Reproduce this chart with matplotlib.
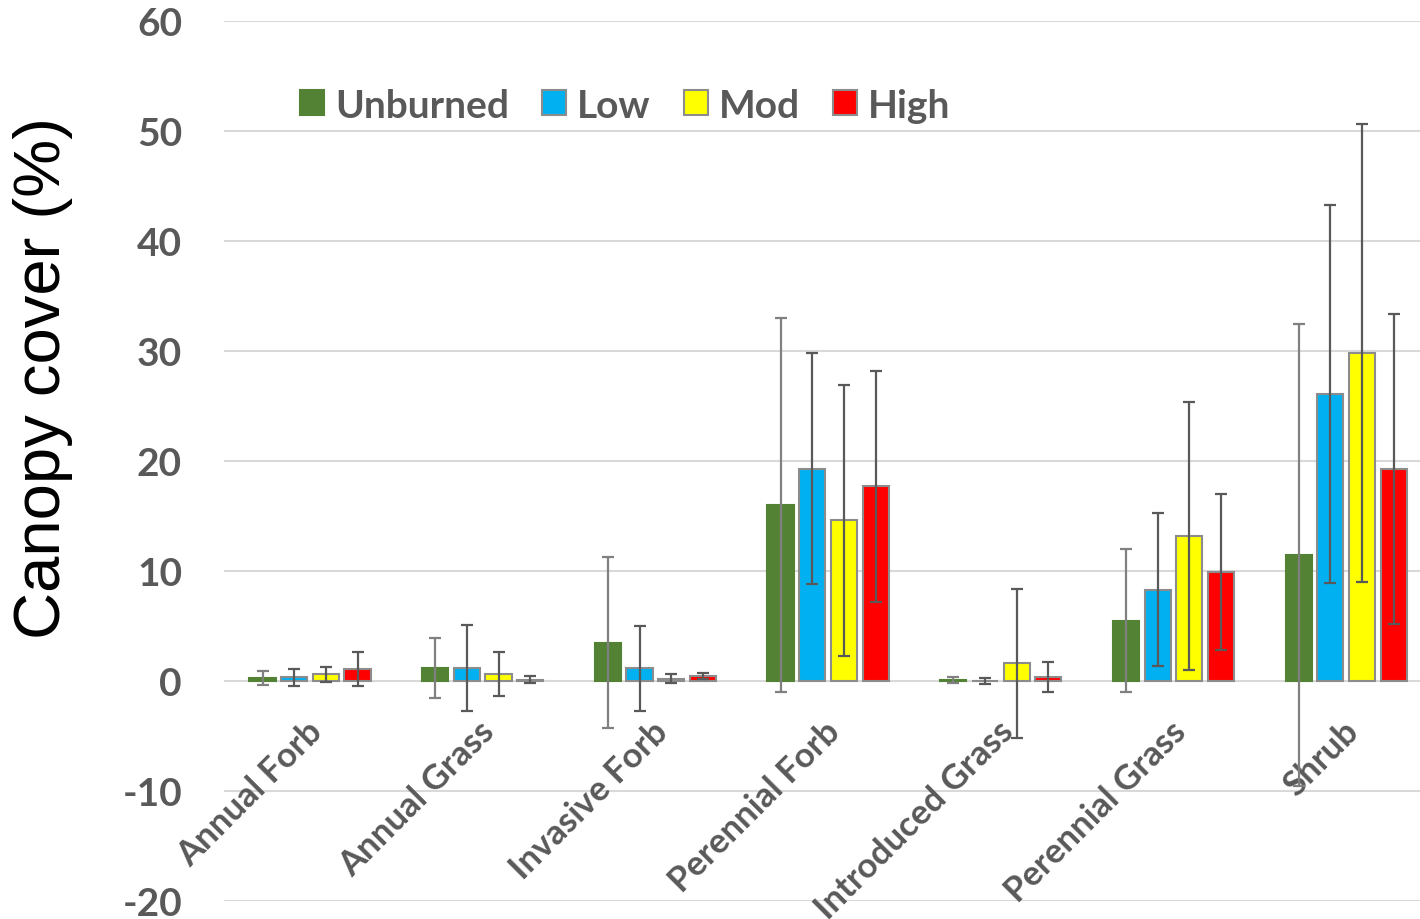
import matplotlib
matplotlib.use("Agg")
import matplotlib.pyplot as plt
import numpy as np

plt.rcParams["axes.unicode_minus"] = False

categories = ["Annual Forb", "Annual Grass", "Invasive Forb", "Perennial Forb",
              "Introduced Grass", "Perennial Grass", "Shrub"]
series = ["Unburned", "Low", "Mod", "High"]
unburned = [0.29, 1.17, 3.5, 16.0, 0.05, 5.5, 11.5]
unburned_err = [0.65, 2.75, 7.8, 17.0, 0.27, 6.5, 21.0]
low = [0.32, 1.18, 1.15, 19.3, 0.03, 8.3, 26.1]
low_err = [0.77, 3.9, 3.85, 10.5, 0.28, 6.95, 17.2]
mod = [0.62, 0.65, 0.2, 14.6, 1.6, 13.2, 29.8]
mod_err = [0.68, 1.98, 0.4, 12.3, 6.8, 12.2, 20.8]
high = [1.1, 0.12, 0.48, 17.7, 0.37, 9.9, 19.3]
high_err = [1.55, 0.3, 0.28, 10.5, 1.34, 7.1, 14.1]
yticks = [-20, -10, 0, 10, 20, 30, 40, 50, 60]

values = [unburned, low, mod, high]
errs = [unburned_err, low_err, mod_err, high_err]
colors = ["#548235", "#00B0F0", "#FFFF00", "#FF0000"]
edges = ["#548235", "#8c8c8c", "#8c8c8c", "#8c8c8c"]
ecolors = ["#808080", "#595959", "#595959", "#595959"]

fig = plt.figure(figsize=(14.2, 9.2), dpi=100)
ax = fig.add_axes([223.7/1420, 1-902/920, 1-223.7/1420, (902-22)/920])

x = np.arange(len(categories))
step = 0.1835
width = 0.152
for i in range(4):
    pos = x + (i - 1.5) * step
    ax.bar(pos, values[i], width, color=colors[i], edgecolor=edges[i],
           linewidth=1.5, label=series[i], zorder=3)
    ax.errorbar(pos, values[i], yerr=errs[i], fmt="none", ecolor=ecolors[i],
                elinewidth=1.6, capsize=4.5, capthick=1.6, zorder=4)

ax.set_ylim(-20, 60)
ax.set_xlim(-0.5, (1420-310)/172.7)
ax.set_yticks(yticks)
ax.grid(axis="y", color="#d9d9d9", linewidth=1.5, zorder=0)
ax.set_xticks([])
for s in ax.spines.values():
    s.set_visible(False)
ax.tick_params(axis="y", length=0, pad=30, labelsize=28, labelcolor="#595959")
for t in ax.get_yticklabels():
    t.set_fontfamily("Lato")
    t.set_fontweight("bold")

for xi, c in zip(x, categories):
    ax.text(xi - 0.025, -3.05, c, rotation=45, ha="right", va="top",
            rotation_mode="anchor", fontsize=25, fontweight="bold",
            color="#595959", family="Lato")

fig.text(0.03, (1-378/920), "Canopy cover (%)", rotation=90, ha="center",
         va="center", fontsize=47, family="Liberation Sans", color="black")

leg = ax.legend(loc="center left", bbox_to_anchor=(0.0638, 0.9045), ncol=4,
                frameon=False, prop={"family": "Lato", "weight": "bold", "size": 28},
                handlelength=0.62, handleheight=0.62, handletextpad=0.28,
                columnspacing=0.85, borderaxespad=0, borderpad=0)
for t in leg.get_texts():
    t.set_color("#595959")

fig.savefig("out.png", dpi=100)
